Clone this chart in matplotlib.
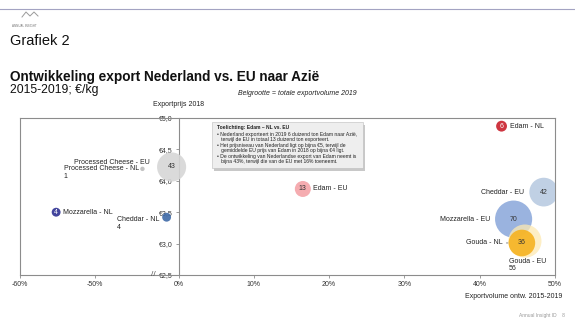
import numpy as np
import matplotlib
matplotlib.use("Agg")
import matplotlib.pyplot as plt
from matplotlib.lines import Line2D
from matplotlib.patches import Rectangle

plt.rcParams["font.family"] = ["Liberation Sans", "DejaVu Sans"]

# --- data ---
names = ["Processed Cheese - EU", "Processed Cheese - NL", "Mozzarella - NL",
         "Cheddar - NL", "Edam - NL", "Edam - EU", "Cheddar - EU",
         "Mozzarella - EU", "Gouda - EU", "Gouda - NL"]
growth = [-4.2, -21.7, -55.2, -7.2, 42.9, 16.5, 48.5, 44.5, 46.0, 45.6]   # % 2015-2019
price = [4.22, 4.19, 3.50, 3.42, 4.87, 3.87, 3.82, 3.39, 3.04, 3.01]       # EUR/kg 2018
volume = [43, 1, 4, 4, 6, 13, 42, 70, 56, 36]                            # duizend ton 2019
colors = ["#d6d6d6", "#bdbdbd", "#2e3192", "#3f6aa8", "#c9202c", "#f4a3a8",
          "#b9cbe1", "#8fabdc", "#fde9b2", "#f6b220"]
num_color = ["#333333", None, "white", None, "white", "#333333", "#333333",
             "#333333", None, "#333333"]

xticks = [-60, -50, 0, 10, 20, 30, 40, 50]
xticklabels = ["-60%", "-50%", "0%", "10%", "20%", "30%", "40%", "50%"]
yticks = [2.5, 3.0, 3.5, 4.0, 4.5, 5.0]
yticklabels = ["€2,5", "€3,0", "€3,5", "€4,0", "€4,5", "€5,0"]

# label text, offset in points, ha, va
labels = [
    ("Processed Cheese - EU", (-16, 3), "right", "center"),
    ("Processed Cheese - NL\n1", (-2.5, 2.5), "right", "top"),
    ("Mozzarella - NL", (5, 0), "left", "center"),
    ("Cheddar - NL\n4", (-5, -4.5), "right", "center"),
    ("Edam - NL", (5.8, 0), "left", "center"),
    ("Edam - EU", (7.2, 0), "left", "center"),
    ("Cheddar - EU", (-14.4, 0), "right", "center"),
    ("Mozzarella - EU", (-16.6, 0), "right", "center"),
    ("Gouda - EU\n56", (-11.5, -17), "left", "center"),
    ("Gouda - NL", (-13.7, 0), "right", "center"),
]


# compressed negative side of the x axis
def fwd(x):
    x = np.asarray(x, dtype=float)
    return np.where(x >= 0, x, np.where(x >= -50, x * 0.2214, x + 38.93))


def inv(u):
    u = np.asarray(u, dtype=float)
    return np.where(u >= 0, u, np.where(u >= -11.07, u / 0.2214, u - 38.93))


fig = plt.figure(figsize=(5.75, 3.25), dpi=100)
ax = fig.add_axes([20 / 575, 1 - 275 / 325, 535 / 575, 157 / 325])
ax.set_xscale("function", functions=(fwd, inv))
ax.set_xlim(-60, 50)
ax.set_ylim(2.5, 5.0)

grey = "#8c8c8c"
for s in ["top", "right", "bottom"]:
    ax.spines[s].set_color(grey)
    ax.spines[s].set_linewidth(0.8)
ax.spines["left"].set_position(("data", 0))
ax.spines["left"].set_color(grey)
ax.spines["left"].set_linewidth(0.8)
ax.axvline(-60, color=grey, lw=0.8, clip_on=False)

ax.set_xticks(xticks)
ax.set_xticklabels(xticklabels)
ax.set_yticks(yticks)
ax.set_yticklabels(yticklabels)
ax.xaxis.set_minor_locator(matplotlib.ticker.NullLocator())
ax.tick_params(axis="both", labelsize=5, colors="#333333", length=2, width=0.6,
               pad=2)
ax.tick_params(axis="both", color=grey)

# bubbles (area ~ volume)
sizes = [10.2 * v for v in volume]
for i in range(len(names)):
    alpha = 0.75 if names[i] == "Gouda - EU" else 0.9
    ax.scatter(growth[i], price[i], s=sizes[i], color=colors[i], alpha=alpha,
               edgecolor="none", zorder=3)
    if num_color[i]:
        ax.text(growth[i], price[i], str(volume[i]), fontsize=5,
                color=num_color[i], ha="center", va="center", zorder=4)

for i, (txt, off, ha, va) in enumerate(labels):
    kw = {}
    if names[i] == "Gouda - NL":
        kw["arrowprops"] = dict(arrowstyle="-", color="#555555", lw=0.5,
                                shrinkA=0.5, shrinkB=10)
    ax.annotate(txt, (growth[i], price[i]), xytext=off, textcoords="offset points",
                ha=ha, va=va, multialignment="left", fontsize=5, color="#222222",
                linespacing=1.05, zorder=5, **kw)

# y axis break marker
ax.annotate("//", (0, 2.5), xytext=(-18, 0), textcoords="offset points",
            ha="center", va="center", fontsize=6, color="#555555")

# axis titles
fig.text(179 / 575, 1 - 105 / 325, "Exportprijs 2018", fontsize=5, ha="center",
         va="center", color="#222222")
fig.text(297 / 575, 1 - 94 / 325, "Belgrootte = totale exportvolume 2019",
         fontsize=5, ha="center", va="center", style="italic", color="#222222")
fig.text(562 / 575, 1 - 296 / 325, "Exportvolume ontw. 2015-2019", fontsize=5,
         ha="right", va="center", color="#222222")

# explanation box
bx, by, bw, bh = 212 / 575, 1 - 168 / 325, 151 / 575, 46 / 325
fig.patches.append(Rectangle((bx + 0.004, by - 0.008), bw, bh, transform=fig.transFigure,
                             facecolor="#c8c8c8", edgecolor="none", zorder=6))
fig.patches.append(Rectangle((bx, by), bw, bh, transform=fig.transFigure,
                             facecolor="#eeeeee", edgecolor="#bbbbbb", lw=0.4, zorder=7))
box_lines = [
    ("Toelichting: Edam – NL vs. EU", True),
    ("• Nederland exporteert in 2019 6 duizend ton Edam naar Azië,\n"
     "   terwijl de EU in totaal 13 duizend ton exporteert.", False),
    ("• Het prijsniveau van Nederland ligt op bijna €5, terwijl de\n"
     "   gemiddelde EU prijs van Edam in 2018 op bijna €4 ligt.", False),
    ("• De ontwikkeling van Nederlandse export van Edam neemt is\n"
     "   bijna 43%, terwijl die van de EU met 16% toeneemt.", False),
]
ys = [127, 137, 148, 159]
for (txt, bold), yy in zip(box_lines, ys):
    fig.text(217 / 575, 1 - yy / 325, txt, fontsize=3.6, va="center", ha="left",
             fontweight="bold" if bold else "normal", color="#222222",
             linespacing=1.15, zorder=8)

# page header
fig.add_artist(Line2D([0, 1], [1 - 9 / 325, 1 - 9 / 325], color="#a3a3c2", lw=0.8))
wx = np.array([22, 26, 30, 34, 38]) / 575
wy = 1 - np.array([17, 12, 16, 12, 16]) / 325
fig.add_artist(Line2D(wx, wy, color="#9a9a9a", lw=0.7))
fig.text(12 / 575, 1 - 26 / 325, "ANNUAL INSIGHT", fontsize=2.2, color="#777777",
         va="center")
fig.text(10 / 575, 1 - 41 / 325, "Grafiek 2", fontsize=10.5, va="center",
         color="#111111")
fig.text(10 / 575, 1 - 77 / 325, "Ontwikkeling export Nederland vs. EU naar Azië",
         fontsize=9.8, fontweight="bold", va="center", color="#111111")
fig.text(10 / 575, 1 - 90 / 325, "2015-2019; €/kg", fontsize=8.8, va="center",
         color="#111111")
fig.text(565 / 575, 1 - 316 / 325, "Annual Insight ID    8", fontsize=3.5,
         ha="right", va="center", color="#999999")

fig.savefig("out.png", dpi=100)
